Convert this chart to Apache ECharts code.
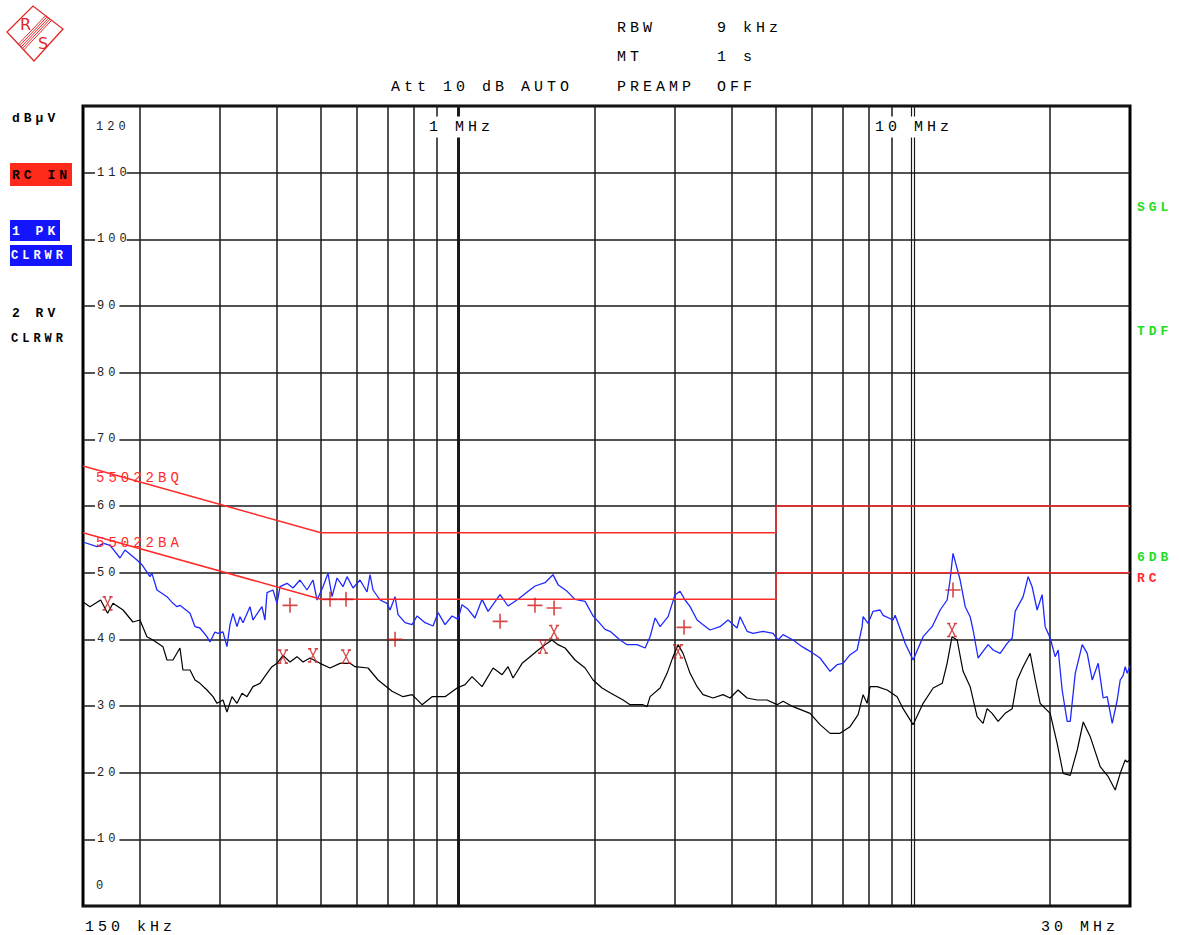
<!DOCTYPE html>
<html><head><meta charset="utf-8">
<script src="https://cdn.jsdelivr.net/npm/echarts@6/dist/echarts.min.js"></script>
<style>
html,body{margin:0;padding:0;background:#fff}
#main{width:1179px;height:935px}
#main text{letter-spacing:4px}
</style>
</head><body><div id="main"></div>
<script>
// ---- DATA (frequency in MHz, level in dBµV) ----
const peakFreq = [0.150,0.161,0.1665,0.172,0.1809,0.1855,0.1971,0.2021,0.2105,0.2126,0.2181,0.2294,0.2365,0.2413,0.245,0.2578,0.2644,0.2711,0.2809,0.2852,0.2925,0.297,0.3046,0.3108,0.3156,0.3204,0.327,0.332,0.3371,0.3492,0.3545,0.371,0.3767,0.3806,0.3923,0.4004,0.4065,0.4212,0.4341,0.4498,0.466,0.4804,0.4903,0.5053,0.5183,0.5289,0.5425,0.5592,0.5707,0.5883,0.6095,0.6315,0.6411,0.6509,0.6744,0.6987,0.7094,0.7276,0.7387,0.7654,0.793,0.8133,0.847,0.8819,0.9045,0.9372,0.9709,1.001,1.021,1.053,1.09,1.13,1.165,1.238,1.289,1.356,1.427,1.478,1.554,1.618,1.66,1.738,1.809,1.904,1.982,2.033,2.106,2.16,2.272,2.354,2.476,2.579,2.645,2.713,2.782,2.897,3.001,3.078,3.157,3.238,3.355,3.458,3.582,3.768,3.924,4.107,4.17,4.321,4.453,4.685,4.928,5.055,5.184,5.453,5.707,5.943,6.251,6.576,6.813,7.023,7.277,7.54,7.733,7.772,7.971,8.175,8.47,8.6,9.046,9.139,9.373,9.614,10.01,10.53,11.02,11.48,11.89,12.07,12.25,12.44,12.7,13.03,13.36,13.56,13.91,14.26,14.63,15.01,15.55,16.11,16.53,16.78,17.47,17.92,18.28,18.75,19.23,19.53,20.03,20.54,20.86,21.28,21.83,22.17,22.74,23.56,24.16,24.78,25.54,26.19,26.73,27.42,28.12,28.55,28.99,29.28,29.58,30.0];
const peakLevel = [54.6,53.9,54.4,54.1,52.2,53.4,51.9,51.2,49.4,49.9,47.4,46.4,45.4,44.9,45.1,43.9,41.9,41.7,40.4,39.6,41.1,40.9,41.1,38.9,42.2,43.9,41.9,43.4,42.5,44.9,42.9,44.9,42.9,47.0,47.4,45.4,47.9,48.4,47.7,48.9,47.4,48.9,45.9,47.9,49.9,46.4,49.2,47.9,49.4,47.7,48.9,47.1,49.7,47.4,45.9,45.4,44.4,46.4,43.7,42.5,42.2,43.5,42.5,42.0,44.0,42.2,43.5,43.0,45.2,44.5,43.2,46.0,44.2,46.7,45.0,46.0,47.2,48.0,48.5,49.7,48.2,47.2,46.0,45.7,43.5,42.7,41.5,41.2,39.9,39.2,39.2,38.7,40.4,43.2,41.9,43.4,46.7,47.2,45.9,44.9,42.9,42.2,41.4,41.9,42.9,41.7,43.4,41.2,40.9,41.2,40.9,39.9,40.7,39.9,38.9,38.2,37.2,35.2,36.2,36.4,37.7,38.4,41.9,43.4,42.4,44.2,44.4,43.6,42.9,43.6,41.6,39.4,36.9,40.4,41.9,44.4,45.9,48.9,52.9,51.2,48.9,44.9,43.4,41.4,37.2,38.2,39.2,38.4,37.9,39.4,40.2,44.2,46.4,49.4,47.9,44.4,46.7,41.9,40.2,37.4,38.4,32.4,27.7,27.7,34.9,39.2,37.9,33.9,36.4,31.2,31.4,27.4,30.9,33.9,34.6,35.9,34.9,36.0];

const avgFreq = [0.150,0.1554,0.164,0.1699,0.1746,0.1837,0.1931,0.2001,0.2073,0.2137,0.2248,0.2294,0.2365,0.245,0.2487,0.2578,0.2644,0.2711,0.2809,0.2896,0.2955,0.3046,0.3108,0.3188,0.327,0.3354,0.344,0.3545,0.3673,0.3806,0.3903,0.4004,0.4127,0.4276,0.443,0.4567,0.4732,0.4977,0.5236,0.5508,0.5794,0.5943,0.6347,0.6676,0.7166,0.7576,0.793,0.8342,0.8775,0.9372,0.9958,1.037,1.074,1.13,1.195,1.251,1.289,1.322,1.384,1.441,1.501,1.554,1.61,1.66,1.72,1.809,1.904,1.982,2.074,2.16,2.307,2.39,2.552,2.605,2.645,2.782,2.882,2.971,3.047,3.125,3.238,3.355,3.458,3.637,3.826,3.964,4.128,4.321,4.544,4.781,5.029,5.184,5.453,5.943,6.251,6.576,6.917,7.277,7.578,7.772,7.931,8.052,8.343,8.776,9.232,9.516,10.01,10.53,11.08,11.6,11.89,12.19,12.51,12.89,13.36,13.84,14.26,14.56,14.93,15.39,15.95,16.53,16.95,17.47,18.1,18.57,19.04,20.03,20.75,21.39,22.17,22.97,23.68,24.53,25.8,26.87,27.84,28.55,29.28,29.58,30.0];
const avgLevel = [45.6,44.9,45.9,43.9,45.4,44.4,42.6,42.9,40.4,39.9,38.9,36.9,36.9,38.7,35.4,35.4,33.9,33.4,32.4,31.4,30.4,30.9,29.1,31.4,30.4,31.9,31.4,32.9,33.4,34.9,35.9,36.4,37.6,36.6,37.4,36.6,37.2,36.4,35.7,36.4,36.4,35.9,35.7,33.9,32.2,31.4,31.7,30.2,31.4,31.4,32.7,33.2,34.4,32.9,35.7,34.7,35.9,34.2,36.4,37.4,38.4,39.2,39.9,39.2,38.7,36.9,35.7,33.9,32.7,32.0,30.9,30.2,30.2,29.9,31.4,32.7,34.9,37.4,39.2,37.9,34.9,32.9,31.7,31.2,31.7,31.2,32.4,31.2,30.9,30.9,30.2,30.7,29.9,28.9,27.2,25.9,25.9,26.9,28.7,31.7,30.4,32.9,32.9,32.4,31.4,29.6,27.2,30.4,32.7,33.4,36.4,40.4,39.9,35.2,32.9,28.4,27.4,29.6,28.9,27.7,28.9,29.6,33.9,35.9,37.9,33.9,30.4,28.9,24.4,19.9,19.6,23.4,27.6,25.4,20.9,19.4,17.4,19.9,21.9,21.6,22.0];

const limitFreq = [0.15,0.5,5,5,30];
const limitQP = [66,56,56,60,60];   // 55022BQ
const limitAV = [56,46,46,50,50];   // 55022BA

const qpMarkFreq = [0.4276,0.5236,0.5678,0.7276,1.238,1.477,1.627,3.141,12.25];
const qpMarkLevel = [45.1,46.0,46.0,40.0,42.7,45.1,44.7,41.8,47.4];
const avMarkFreq = [0.1699,0.4127,0.4804,0.5678,1.538,1.627,3.047,12.19];
const avMarkLevel = [45.4,37.4,37.6,37.4,38.9,41.1,38.2,41.4];

const gridFreqs = [0.2,0.3,0.4,0.5,0.6,0.7,0.8,0.9,1,2,3,4,5,6,7,8,9,9.9,10.08,20];
const yMin = 0, yMax = 120, yStep = 10;

// ---- CHART ----
const chart = echarts.init(document.getElementById('main'), null, {renderer: 'svg'});
const mono = '"Liberation Mono", "DejaVu Sans Mono", monospace';
const pair = (xs, ys) => xs.map((x, i) => [x, ys[i]]);
const txt = (text, x, y, opts) => Object.assign({
  type: 'text', z: 100,
  style: Object.assign({text, x, y, fill: '#000', font: '15px ' + mono, textVerticalAlign: 'middle', textAlign: 'left'}, opts || {})
});
const bold = (size) => 'bold ' + size + 'px ' + mono;
const logoRed = '#e02828';
const bandT = [0.42, 0.47, 0.52, 0.57, 0.62];
const yBase = {type: 'value', min: yMin, max: yMax, interval: yStep, position: 'left',
  axisLine: {show: false}, axisTick: {show: false}};

chart.setOption({
  animation: false,
  backgroundColor: '#fff',
  grid: {left: 83, right: 49, top: 106, bottom: 29, show: true, borderColor: '#000', borderWidth: 3, backgroundColor: 'transparent', outerBoundsMode: 'none'},
  xAxis: {
    type: 'log', logBase: 10, min: 0.15, max: 30,
    axisLine: {show: false}, axisTick: {show: false}, axisLabel: {show: false}, splitLine: {show: false}
  },
  yAxis: [
    Object.assign({}, yBase, {z: 0, axisLabel: {show: false},
      splitLine: {show: true, lineStyle: {color: '#1a1a1a', width: 1.5}}}),
    Object.assign({}, yBase, {z: 20, splitLine: {show: false},
      axisLabel: {inside: true, margin: 12, showMinLabel: false, showMaxLabel: false,
        fontFamily: mono, fontSize: 12, color: '#222', backgroundColor: '#fff', padding: [2, 8, 2, 2]}})
  ],
  series: [
    {type: 'line', name: 'grid', data: [], z: 1, silent: true,
     markLine: {silent: true, symbol: ['none', 'none'], z: 1, animation: false,
       label: {show: false},
       lineStyle: {color: '#1a1a1a', width: 1.5, type: 'solid'},
       emphasis: {disabled: true},
       data: gridFreqs.map(f => ({xAxis: f, lineStyle: {width: f === 1 ? 3 : (f > 9.8 && f < 10.1 ? 1.2 : 1.5)}}))}},
    {type: 'line', name: '1 PK', data: pair(peakFreq, peakLevel), showSymbol: false, z: 3,
     lineStyle: {color: '#1e28ff', width: 1.3}, itemStyle: {color: '#1e28ff'}},
    {type: 'line', name: '2 RV', data: pair(avgFreq, avgLevel), showSymbol: false, z: 3,
     lineStyle: {color: '#000', width: 1.2}, itemStyle: {color: '#000'}},
    {type: 'line', name: '55022BQ', data: pair(limitFreq, limitQP), showSymbol: false, z: 4,
     lineStyle: {color: '#ff2a2a', width: 1.5}, itemStyle: {color: '#ff2a2a'}},
    {type: 'line', name: '55022BA', data: pair(limitFreq, limitAV), showSymbol: false, z: 4,
     lineStyle: {color: '#ff2a2a', width: 1.5}, itemStyle: {color: '#ff2a2a'}},
    {type: 'scatter', name: 'QP', data: pair(qpMarkFreq, qpMarkLevel), z: 5,
     symbol: 'path://M10 0 L10 20 M0 10 L20 10', symbolSize: 15,
     itemStyle: {color: 'rgba(0,0,0,0)', borderColor: '#cc1c1c', borderWidth: 1.6}},
    {type: 'scatter', name: 'AV', data: pair(avMarkFreq, avMarkLevel), z: 5,
     symbol: 'path://M0 0 L4 0 M8 0 L12 0 M2 0 L10 14 M10 0 L2 14 M0 14 L4 14 M8 14 L12 14', symbolSize: [10, 13],
     itemStyle: {color: 'rgba(0,0,0,0)', borderColor: '#cc1c1c', borderWidth: 1.4}}
  ],
  graphic: [
    // logo
    {type: 'polygon', z: 100, shape: {points: [[7, 32], [33, 6], [63, 29], [34, 61]]}, style: {fill: 'none', stroke: logoRed, lineWidth: 1.3}},
    ...bandT.map(t => ({type: 'line', z: 100, shape: {x1: 33 + 30 * t, y1: 6 + 23 * t, x2: 7 + 27 * t, y2: 32 + 29 * t}, style: {stroke: logoRed, lineWidth: 1}})),
    txt('R', 20, 24, {fill: logoRed, font: '16px "DejaVu Sans"'}),
    txt('S', 38, 43, {fill: logoRed, font: '16px "DejaVu Sans"'}),
    // header
    txt('RBW', 617, 28), txt('9 kHz', 717, 28),
    txt('MT', 617, 57), txt('1 s', 717, 57),
    txt('Att 10 dB AUTO', 391, 87), txt('PREAMP', 617, 87), txt('OFF', 717, 87),
    // left legend
    txt('dBµV', 12, 118, {font: bold(13)}),
    {type: 'rect', z: 99, shape: {x: 10, y: 163, width: 62, height: 23}, style: {fill: '#ff2a1a'}},
    txt('RC IN', 12, 175, {font: bold(13)}),
    {type: 'rect', z: 99, shape: {x: 10, y: 220, width: 50, height: 21}, style: {fill: '#1414ff'}},
    txt('1 PK', 12, 231, {font: bold(13), fill: '#fff'}),
    {type: 'rect', z: 99, shape: {x: 10, y: 245, width: 62, height: 21}, style: {fill: '#1414ff'}},
    txt('CLRWR', 11, 256, {font: bold(12), fill: '#fff'}),
    txt('2 RV', 12, 313, {font: bold(13)}),
    txt('CLRWR', 11, 339, {font: bold(12)}),
    // right legend
    txt('SGL', 1137, 207, {font: bold(13), fill: '#22dd22'}),
    txt('TDF', 1137, 331, {font: bold(13), fill: '#22dd22'}),
    txt('6DB', 1137, 557, {font: bold(13), fill: '#22dd22'}),
    txt('RC', 1137, 578, {font: bold(13), fill: '#ff2a2a'}),
    // limit line names
    txt('55022BQ', 96, 478, {fill: '#ff2a2a', font: '14px ' + mono}),
    txt('55022BA', 96, 543, {fill: '#ff2a2a', font: '14px ' + mono}),
    // axis texts
    txt('120', 96, 127, {font: '12px ' + mono, fill: '#222'}),
    txt('0', 96, 886, {font: '12px ' + mono, fill: '#222'}),
    txt('1 MHz', 427, 127, {backgroundColor: '#fff', padding: [3, 14, 3, 2]}),
    txt('10 MHz', 873, 127, {backgroundColor: '#fff', padding: [3, 14, 3, 2]}),
    txt('150 kHz', 85, 927),
    txt('30 MHz', 1041, 927)
  ]
});
</script>
</body></html>
